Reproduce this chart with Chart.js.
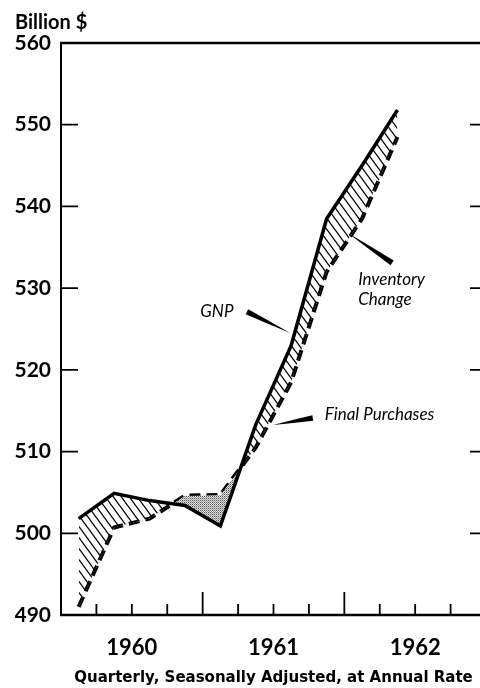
<!DOCTYPE html>
<html><head><meta charset="utf-8">
<script src="https://cdn.jsdelivr.net/npm/chart.js@4.4.1/dist/chart.umd.min.js"></script>
<style>
html,body{margin:0;padding:0;background:#fff;overflow:hidden;}
#wrap{width:500px;height:688px;}
</style></head><body>
<div id="wrap"><canvas id="c" width="500" height="688"></canvas></div>
<script>
// ---- data ----
const quarters = ['1960 I','1960 II','1960 III','1960 IV','1961 I','1961 II','1961 III','1961 IV','1962 I','1962 II','1962 III','1962 IV'];
const gnp = [501.8, 504.9, 504.0, 503.4, 500.9, 513.3, 523.0, 538.5, 545.0, 551.8];
const finalPurchases = [491.0, 500.7, 501.8, 504.6, 504.7, 510.5, 518.5, 532.0, 538.5, 548.5];
const yearLabels = ['1960', '1961', '1962'];
const yTicks = [490, 500, 510, 520, 530, 540, 550, 560];
const unitLabel = 'Billion $';
const axisNote = 'Quarterly, Seasonally Adjusted, at Annual Rate';

// annotation labels (data coordinates: quarter index, billion $)
const notes = [
  {lines: ['GNP'], x: 3.90, y: 527.2, align: 'center'},
  {lines: ['Inventory', 'Change'], x: 7.89, y: 531.0, align: 'left'},
  {lines: ['Final Purchases'], x: 6.95, y: 514.5, align: 'left'}
];
const pointers = [
  {from: [4.75, 527.1], to: [5.97, 524.5]},
  {from: [8.85, 533.1], to: [7.60, 536.75]},
  {from: [6.61, 514.1], to: [5.49, 513.25]}
];

// ---- patterns ----
function hatchPattern() {
  const w = 8, h = 11;
  const c = document.createElement('canvas'); c.width = w; c.height = h;
  const g = c.getContext('2d');
  g.strokeStyle = '#000'; g.lineWidth = 1.3;
  for (let k = -1; k <= 1; k++) {
    g.beginPath(); g.moveTo(k * w - 2, -2 * h / w); g.lineTo(k * w + w + 2, h + 2 * h / w); g.stroke();
  }
  return g.createPattern(c, 'repeat');
}
function stipplePattern() {
  const c = document.createElement('canvas'); c.width = 2; c.height = 2;
  const g = c.getContext('2d');
  g.fillStyle = '#dcdcdc'; g.fillRect(0, 0, 2, 2);
  g.fillStyle = '#5a5a5a'; g.fillRect(0, 0, 1, 1);
  g.fillStyle = '#a0a0a0'; g.fillRect(1, 1, 1, 1);
  return g.createPattern(c, 'repeat');
}

const frame = {
  id: 'frame',
  afterDatasetsDraw(chart) {
    const {ctx, chartArea: a, scales} = chart;
    const xs = scales.x, ys = scales.y, yr = scales.years;
    ctx.save();
    ctx.strokeStyle = '#000'; ctx.fillStyle = '#000'; ctx.lineCap = 'butt';
    ctx.lineWidth = 2.5;
    ctx.beginPath(); ctx.moveTo(a.left - 1, a.top); ctx.lineTo(a.right, a.top); ctx.stroke();
    ctx.beginPath(); ctx.moveTo(a.left - 1, a.bottom); ctx.lineTo(a.right, a.bottom); ctx.stroke();
    ctx.lineWidth = 2;
    ctx.beginPath(); ctx.moveTo(a.left, a.top); ctx.lineTo(a.left, a.bottom); ctx.stroke();
    ctx.beginPath(); ctx.moveTo(a.right, a.top); ctx.lineTo(a.right, a.bottom); ctx.stroke();
    ctx.lineWidth = 1.8;
    yTicks.slice(1, -1).forEach(v => {
      const py = ys.getPixelForValue(v);
      ctx.beginPath();
      ctx.moveTo(a.left, py); ctx.lineTo(a.left + 17, py);
      ctx.moveTo(a.right - 16, py); ctx.lineTo(a.right, py);
      ctx.stroke();
    });
    for (let q = 1; q < quarters.length; q++) {
      const px = yr.getPixelForValue(q / 4);
      const len = q % 4 === 0 ? 23 : 11;
      ctx.beginPath(); ctx.moveTo(px, a.bottom); ctx.lineTo(px, a.bottom - len); ctx.stroke();
    }
    // annotation text
    ctx.font = 'italic 17px Lato';
    ctx.textBaseline = 'middle';
    notes.forEach(n => {
      ctx.textAlign = n.align;
      const px = xs.getPixelForValue(n.x), py = ys.getPixelForValue(n.y);
      n.lines.forEach((t, i) => ctx.fillText(t, px, py + i * 20));
    });
    // pointers (tapered wedges)
    pointers.forEach(p => {
      const x0 = xs.getPixelForValue(p.from[0]), y0 = ys.getPixelForValue(p.from[1]);
      const x1 = xs.getPixelForValue(p.to[0]), y1 = ys.getPixelForValue(p.to[1]);
      const dx = x1 - x0, dy = y1 - y0, L = Math.hypot(dx, dy);
      const nx = -dy / L, ny = dx / L, hw = 2.8;
      const mx = (x0 + x1) / 2, my = (y0 + y1) / 2;
      ctx.beginPath();
      ctx.moveTo(x0 + nx * hw, y0 + ny * hw);
      ctx.quadraticCurveTo(mx + nx * hw * 0.6, my + ny * hw * 0.6, x1, y1);
      ctx.quadraticCurveTo(mx - nx * hw * 0.6, my - ny * hw * 0.6, x0 - nx * hw, y0 - ny * hw);
      ctx.closePath(); ctx.fill();
    });
    ctx.restore();
  }
};

new Chart(document.getElementById('c'), {
  type: 'line',
  data: {
    labels: quarters,
    datasets: [
      {
        label: 'GNP', data: gnp, borderColor: '#000', borderWidth: 3.5,
        borderJoinStyle: 'miter', pointRadius: 0, tension: 0,
        fill: {target: 1, above: hatchPattern(), below: stipplePattern()}
      },
      {
        label: 'Final Purchases', data: finalPurchases, borderColor: '#000', borderWidth: 4,
        borderDash: [11, 6], pointRadius: 0, tension: 0, fill: false
      }
    ]
  },
  options: {
    responsive: false, animation: false, devicePixelRatio: 1,
    layout: {padding: {left: 15, right: 14, top: 0, bottom: 0}},
    plugins: {
      legend: {display: false}, tooltip: {enabled: false},
      title: {
        display: true, text: unitLabel, align: 'start', color: '#000',
        font: {family: 'Lato', weight: 'bold', size: 20}, padding: {top: 11, bottom: 8}
      }
    },
    scales: {
      x: {type: 'category', display: false, offset: true},
      years: {
        type: 'linear', position: 'bottom', min: 0, max: 3,
        grid: {display: false, drawTicks: false}, border: {display: false},
        afterBuildTicks: s => { s.ticks = yearLabels.map((_, i) => ({value: i + 0.5})); },
        afterFit: s => { s.height = 73; },
        ticks: {
          autoSkip: false, maxRotation: 0, padding: 20, color: '#000',
          font: {family: 'Lato', weight: 'bold', size: 22},
          callback: (v, i) => yearLabels[i]
        },
        title: {
          display: true, text: axisNote, color: '#000',
          font: {family: 'DejaVu Sans', weight: 'bold', size: 15}, padding: {top: 0, bottom: 1}
        }
      },
      y: {
        min: yTicks[0], max: yTicks[yTicks.length - 1],
        grid: {display: false, drawTicks: false}, border: {display: false},
        afterFit: s => { s.width = 46; },
        ticks: {stepSize: 10, padding: 10, color: '#000', font: {family: 'Lato', weight: 'bold', size: 21}}
      }
    }
  },
  plugins: [frame]
});
</script>
</body></html>
